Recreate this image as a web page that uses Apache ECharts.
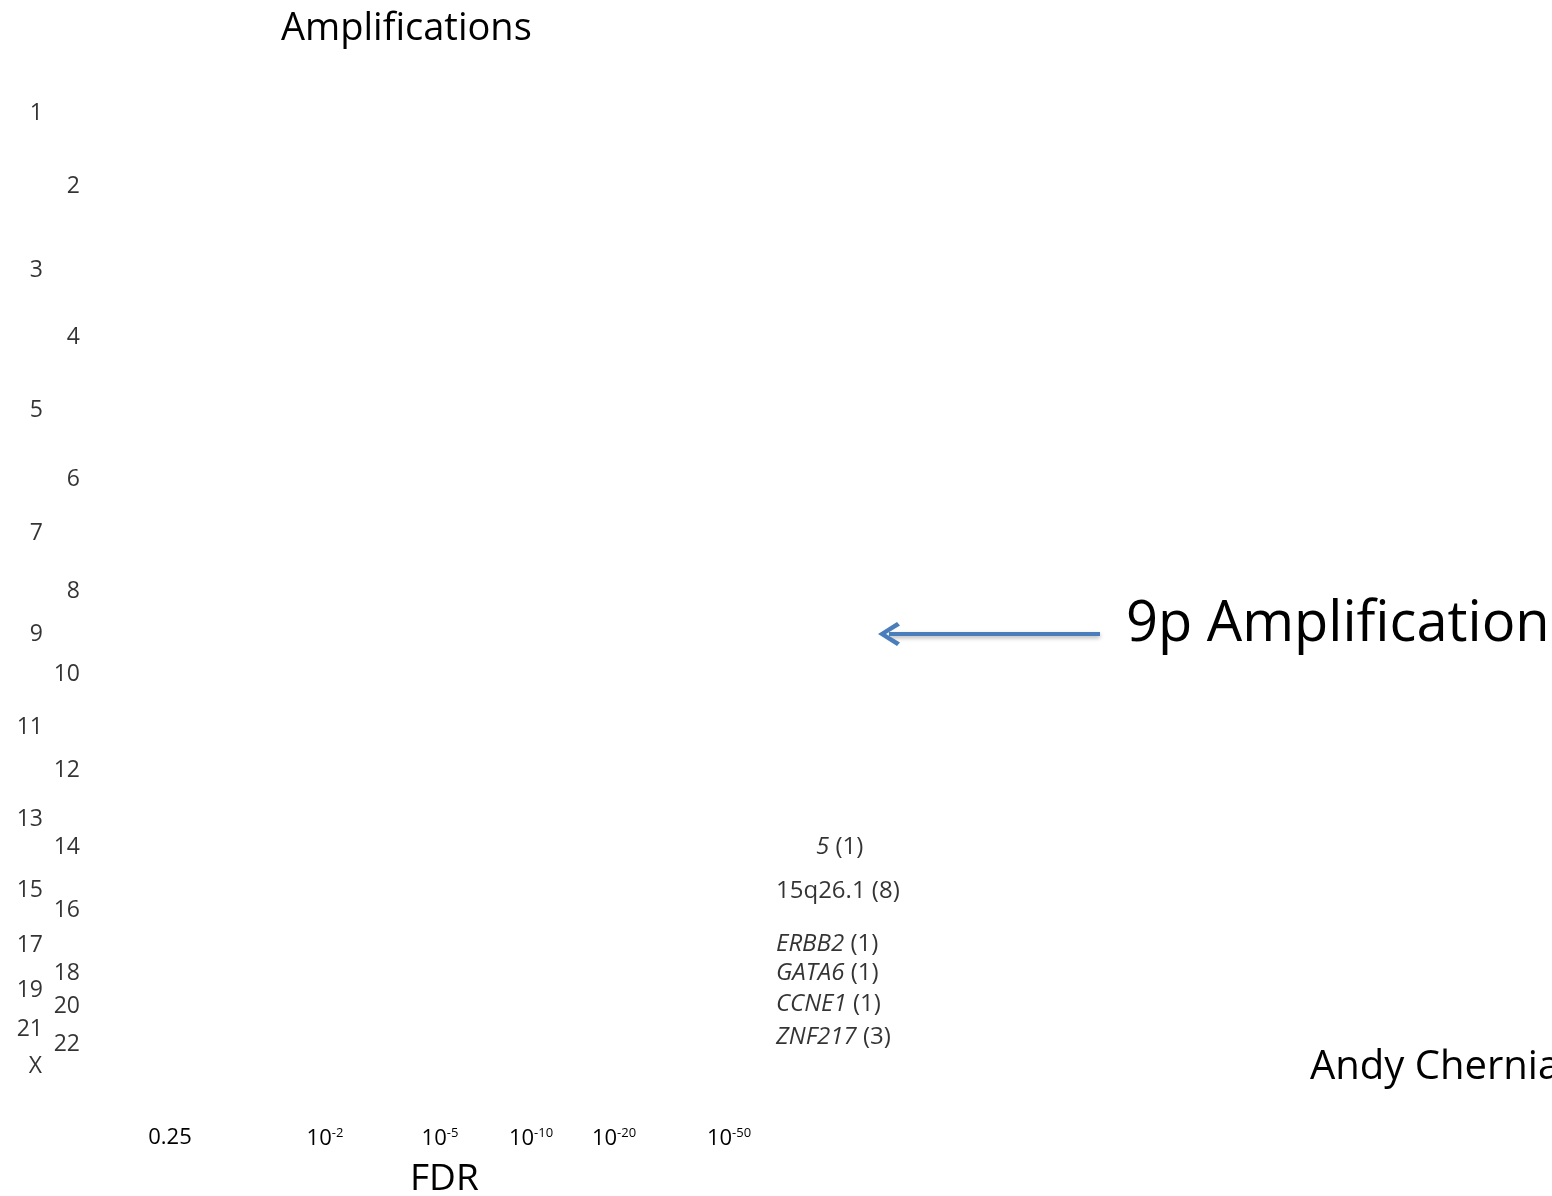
<!DOCTYPE html>
<html>
<head>
<meta charset="utf-8">
<title>Amplifications</title>
<script src="https://cdn.jsdelivr.net/npm/echarts@6/dist/echarts.min.js"></script>
<style>
  html, body { margin: 0; padding: 0; background: #fff; }
  #main { width: 1552px; height: 1196px; }
</style>
</head>
<body>
<div id="main"></div>
<script>
// chromosome labels, position along genome axis (0 = top)
var chromNames = ['1','2','3','4','5','6','7','8','9','10','11','12','13','14','15','16','17','18','19','20','21','22','X'];
var chromPos = [31, 104, 188, 255, 328, 397, 451, 509, 552, 592, 645, 688, 737, 765, 808, 828, 863, 891, 908, 924, 947, 962, 984];

// FDR ticks on the q-value axis
var fdrTickPos = [0, 155, 270, 361, 444, 559];
var fdrTickLabels = ['0.25', '10{sup|-2}', '10{sup|-5}', '10{sup|-10}', '10{sup|-20}', '10{sup|-50}'];

// significant peaks
var peakNames = ['{i|5} (1)', '15q26.1 (8)', '{i|ERBB2} (1)', '{i|GATA6} (1)', '{i|CCNE1} (1)', '{i|ZNF217} (3)'];
var peakX = [646, 606, 606, 606, 606, 606];
var peakY = [765, 809, 862, 891, 922, 955];

// 9p arrow (end point sits in the middle of the arrow head)
var arrowFrom = [930, 552];
var arrowTo = [719, 552];

var FONT = 'Open Sans';

var chromData = [];
for (var i = 0; i < chromNames.length; i++) {
	// odd chromosomes (and X) in the outer column, even ones in the inner column
	var inner = (i % 2 == 1) && chromNames[i] != 'X';
	chromData.push({ value: [inner ? -90 : -127, chromPos[i]], name: chromNames[i] });
}
// X label is centered under 21
chromData[22].value[0] = -128;

var peakData = [];
for (var j = 0; j < peakNames.length; j++) {
	peakData.push({ value: [peakX[j], peakY[j]], name: peakNames[j] });
}

var myChart = echarts.init(document.getElementById('main'));
var option = {
	backgroundColor: '#ffffff',
	animation: false,
	title: [
		{ text: 'Amplifications', left: 276, top: 5, textStyle: { fontFamily: FONT, fontWeight: 'normal', fontSize: 38, color: '#000' } },
		{ text: 'FDR', left: 405, top: 1156, textStyle: { fontFamily: FONT, fontWeight: 'normal', fontSize: 37, color: '#000' } },
		{ text: '9p Amplification', left: 1121, top: 592, textStyle: { fontFamily: FONT, fontWeight: 'normal', fontSize: 56, color: '#000' } },
		{ text: 'Andy Cherniack', left: 1305, top: 1043, textStyle: { fontFamily: FONT, fontWeight: 'normal', fontSize: 40, color: '#000' } }
	],
	grid: { left: 0, right: 0, top: 82, height: 1000 },
	xAxis: {
		type: 'value',
		min: -170,
		max: 1382,
		splitLine: { show: false },
		axisLine: { show: false },
		axisTick: { show: false },
		axisLabel: {
			customValues: fdrTickPos,
			margin: 45,
			fontFamily: FONT,
			fontSize: 22,
			color: '#000',
			formatter: function (v) {
				var k = fdrTickPos.indexOf(v);
				return k >= 0 ? fdrTickLabels[k] : '';
			},
			rich: {
				sup: { fontFamily: FONT, fontSize: 13, color: '#000', verticalAlign: 'top', padding: [0, 0, 10, 0] }
			}
		}
	},
	yAxis: {
		type: 'value',
		inverse: true,
		min: 0,
		max: 1000,
		show: false
	},
	series: [
		{
			name: 'chromosomes',
			type: 'scatter',
			symbolSize: 0,
			data: chromData,
			label: {
				show: true,
				position: 'left',
				distance: 0,
				formatter: '{b}',
				fontFamily: FONT,
				fontSize: 23,
				color: '#000'
			}
		},
		{
			name: 'peaks',
			type: 'scatter',
			symbolSize: 0,
			data: peakData,
			label: {
				show: true,
				position: 'right',
				distance: 0,
				formatter: '{b}',
				fontFamily: FONT,
				fontSize: 24,
				color: '#000',
				rich: {
					i: { fontFamily: FONT, fontStyle: 'italic', fontSize: 24, color: '#000' }
				}
			},
			markLine: {
				silent: true,
				// open chevron head like the reference
				symbol: ['none', 'path://M12,0 L24,19 L20.5,22 L12,8 L3.5,22 L0,19 Z'],
				symbolSize: [24, 22],
				label: { show: false },
				lineStyle: { color: '#4a7ebb', width: 4, type: 'solid', shadowColor: 'rgba(0,0,0,0.3)', shadowBlur: 4, shadowOffsetY: 2 },
				data: [[{ coord: arrowFrom }, { coord: arrowTo }]]
			}
		}
	]
};

myChart.setOption(option);
</script>
</body>
</html>
